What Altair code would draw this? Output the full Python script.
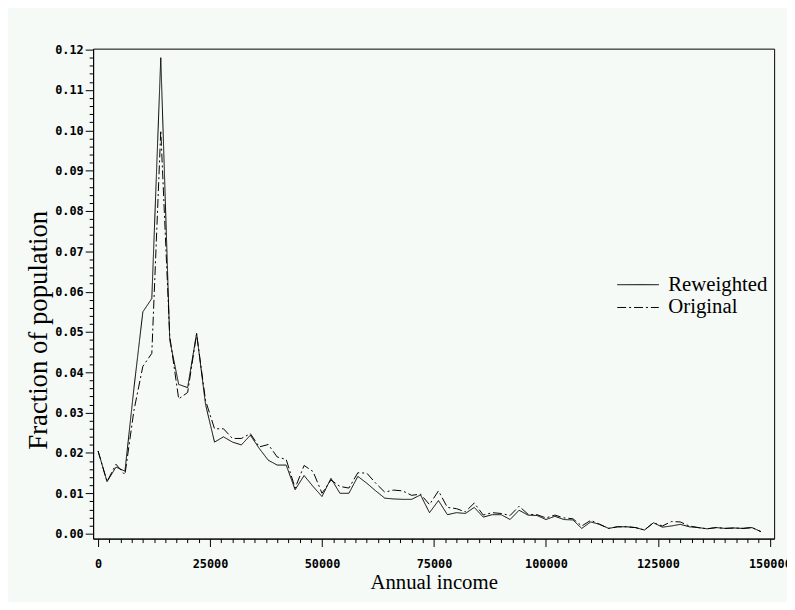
import altair as alt
import pandas as pd

# Income bins (2000-wide)
income = list(range(0, 150000, 2000))

reweighted = [
    0.0205, 0.0129, 0.0165, 0.0155, 0.0360, 0.0550, 0.0583, 0.1180, 0.0480, 0.0370,
    0.0362, 0.0497, 0.0320, 0.0227, 0.0240, 0.0227, 0.0220, 0.0244, 0.0211, 0.0182,
    0.0170, 0.0170, 0.0109, 0.0144, 0.0117, 0.0092, 0.0137, 0.0100, 0.0100, 0.0142,
    0.0125, 0.0106, 0.0088, 0.0086, 0.0085, 0.0085, 0.0096, 0.0052, 0.0082, 0.0047,
    0.0052, 0.0050, 0.0065, 0.0041, 0.0047, 0.0047, 0.0035, 0.0058, 0.0046, 0.0045,
    0.0035, 0.0043, 0.0035, 0.0034, 0.0013, 0.0029, 0.0023, 0.0013, 0.0017, 0.0017,
    0.0015, 0.0009, 0.0027, 0.0016, 0.0019, 0.0023, 0.0017, 0.0015, 0.0012, 0.0015,
    0.0013, 0.0014, 0.0013, 0.0015, 0.0005,
]

original = [
    0.0205, 0.0129, 0.0172, 0.0146, 0.0305, 0.0415, 0.0447, 0.1000, 0.0490, 0.0334,
    0.0350, 0.0495, 0.0330, 0.0260, 0.0260, 0.0236, 0.0236, 0.0248, 0.0215, 0.0221,
    0.0190, 0.0184, 0.0113, 0.0169, 0.0154, 0.0100, 0.0133, 0.0117, 0.0113, 0.0151,
    0.0150, 0.0125, 0.0103, 0.0108, 0.0106, 0.0095, 0.0098, 0.0072, 0.0106, 0.0065,
    0.0062, 0.0054, 0.0076, 0.0046, 0.0052, 0.0050, 0.0045, 0.0068, 0.0048, 0.0047,
    0.0039, 0.0046, 0.0039, 0.0037, 0.0019, 0.0033, 0.0023, 0.0013, 0.0017, 0.0017,
    0.0015, 0.0009, 0.0027, 0.0019, 0.0030, 0.0029, 0.0019, 0.0015, 0.0012, 0.0015,
    0.0013, 0.0014, 0.0013, 0.0015, 0.0005,
]

series_names = ["Reweighted", "Original"]

x_major = [0, 25000, 50000, 75000, 100000, 125000, 150000]
x_minor = [v for v in range(0, 150001, 2500) if v % 25000 != 0]
y_major = [0.00, 0.01, 0.02, 0.03, 0.04, 0.05, 0.06, 0.07, 0.08, 0.09, 0.10, 0.11, 0.12]
y_minor = [round(v * 0.002, 3) for v in range(0, 61) if v % 5 != 0]

rows = []
for name, vals in zip(series_names, [reweighted, original]):
    for x, y in zip(income, vals):
        rows.append({"income": x, "frac": y, "series": name})
df = pd.DataFrame(rows)

BG = "#f5faf7"
LABEL_FONT = "DejaVu Sans Mono"
TITLE_FONT = "Liberation Serif"

xscale = alt.Scale(domain=[-1105, 150950], nice=False, zero=False)
yscale = alt.Scale(domain=[-0.00123, 0.12025], nice=False, zero=False)

major_x = alt.Axis(
    orient="bottom", values=x_major, format="d", tickSize=8, tickColor="black",
    domainColor="black", labelFont=LABEL_FONT, labelFontWeight="bold", labelFontSize=12,
    labelColor="black", labelPadding=12, title="Annual income", titleFont=TITLE_FONT,
    titleFontSize=21, titleFontWeight="normal", titleColor="black", titlePadding=2,
    grid=False, labelFlush=False, labelOverlap=False,
)
minor_x = alt.Axis(
    orient="bottom", values=x_minor, tickSize=4, tickColor="black", labels=False,
    domain=False, grid=False, title=None,
)
major_y = alt.Axis(
    orient="left", values=y_major, format=".2f", tickSize=8, tickColor="black",
    domainColor="black", labelFont=LABEL_FONT, labelFontWeight="bold", labelFontSize=12,
    labelColor="black", labelPadding=2, title="Fraction of population", titleFont=TITLE_FONT,
    titleFontSize=27, titleFontWeight="normal", titleColor="black", titlePadding=2,
    titleY=284, grid=False, labelFlush=False, labelOverlap=False,
)
minor_y = alt.Axis(
    orient="left", values=y_minor, tickSize=4, tickColor="black", labels=False,
    domain=False, grid=False, title=None,
)

lines = alt.Chart(df).mark_line(color="black", strokeWidth=1).encode(
    x=alt.X("income:Q", scale=xscale, axis=major_x),
    y=alt.Y("frac:Q", scale=yscale, axis=major_y),
    strokeDash=alt.StrokeDash(
        "series:N",
        scale=alt.Scale(domain=series_names, range=[[1, 0], [9, 3, 2, 3]]),
        legend=alt.Legend(
            title=None, orient="none", legendX=538, legendY=226,
            symbolType="M-1.75,0H1.75", symbolSize=576, symbolStrokeWidth=1,
            symbolStrokeColor="black", symbolFillColor="transparent",
            labelFont=TITLE_FONT, labelFontSize=21,
            labelColor="black", labelOffset=18, rowPadding=0, padding=0,
        ),
    ),
    order=alt.Order("income:Q"),
)

minor = alt.Chart(df).mark_line(opacity=0).encode(
    x=alt.X("income:Q", scale=xscale, axis=minor_x),
    y=alt.Y("frac:Q", scale=yscale, axis=minor_y),
)

chart = (
    alt.layer(lines, minor)
    .resolve_axis(x="independent", y="independent")
    .properties(
        width=688, height=495,
        autosize=alt.AutoSizeParams(type="none"),
        padding={"left": 86, "top": 38, "right": 13, "bottom": 61},
        background=BG,
    )
    .configure_view(stroke="black", strokeWidth=1, fill=BG)
)

chart.save("out.html", embed_options={"renderer": "svg", "actions": False})
